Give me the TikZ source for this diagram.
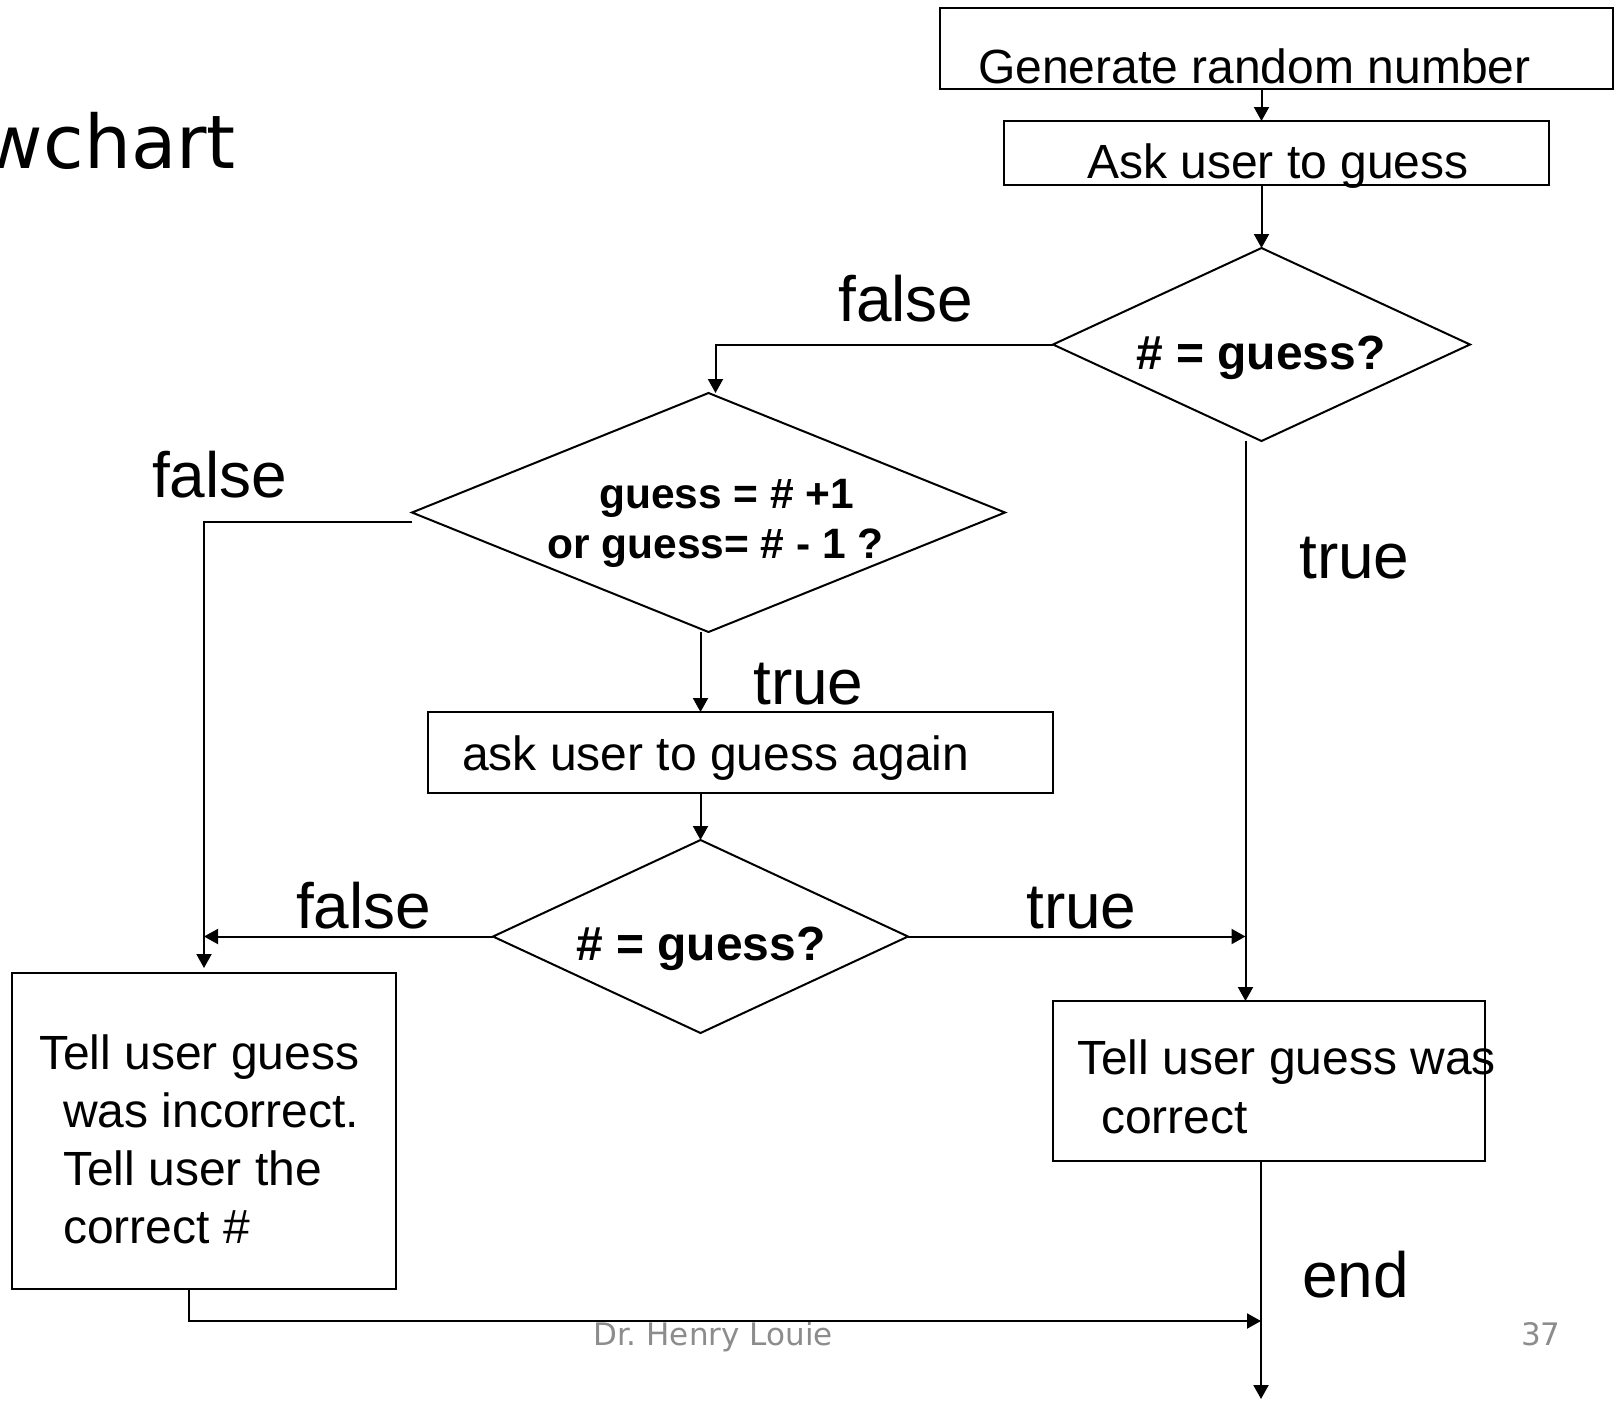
\documentclass[tikz,border=0pt]{standalone}
\usepackage{fontspec}
\setmainfont{Liberation Sans}
\newfontfamily\slidefont{DejaVu Sans}
\usetikzlibrary{shapes.geometric,arrows.meta}

\begin{document}
\begin{tikzpicture}[x=1pt,y=-1pt,
  box/.style={draw, line width=2pt, rectangle, inner sep=0pt, outer sep=0pt},
  decision/.style={draw, line width=2pt, diamond, inner sep=0pt, outer sep=0pt},
  boxtext/.style={inner sep=0pt, anchor=base west, font=\fontsize{48}{58}\selectfont},
  condtext/.style={inner sep=0pt, anchor=base west, font=\fontsize{48}{58}\selectfont\bfseries},
  branch/.style={inner sep=0pt, anchor=base west, font=\fontsize{64}{72}\selectfont},
  footer/.style={inner sep=0pt, anchor=base west, text=black!45, font=\slidefont\fontsize{31}{36}\selectfont},
  flow/.style={line width=2pt},
  arr/.style={flow, -{Triangle[length=14pt,width=15pt]}}]
\useasboundingbox (0,0) rectangle (1623,1401);

% slide title (partly off the page)
\node[inner sep=0pt, anchor=base east, font=\slidefont\fontsize{74}{80}\selectfont] (title) at (236,168) {wchart};

% process boxes
\node[box, minimum width=673pt, minimum height=81pt] (gen) at (1276.5,48.5) {};
\node[box, minimum width=545pt, minimum height=64pt] (ask) at (1276.5,153) {};
\node[box, minimum width=625pt, minimum height=81pt] (again) at (740.5,752.5) {};
\node[box, minimum width=384pt, minimum height=316pt] (wrong) at (204,1131) {};
\node[box, minimum width=432pt, minimum height=160pt] (right) at (1269,1081) {};

% decisions
\node[decision, minimum width=417pt, minimum height=193pt] (d1) at (1261.5,344.5) {};
\node[decision, minimum width=593pt, minimum height=239pt] (d2) at (708.5,512.5) {};
\node[decision, minimum width=415pt, minimum height=193pt] (d3) at (700.5,936.5) {};

% texts in the boxes
\node[boxtext] (gent) at (978,83) {Generate random number};
\node[boxtext] (askt) at (1087,178) {Ask user to guess};
\node[boxtext] (againt) at (462,770) {ask user to guess again};
\node[boxtext] (wrong1) at (39,1069) {Tell user guess};
\node[boxtext] (wrong2) at (63,1127) {was incorrect.};
\node[boxtext] (wrong3) at (63,1185) {Tell user the};
\node[boxtext] (wrong4) at (63,1243) {correct \#};
\node[boxtext] (right1) at (1077,1074) {Tell user guess was};
\node[boxtext] (right2) at (1101,1133) {correct};

% texts in the decisions
\node[condtext] (d1t) at (1136,369) {\# = guess?};
\node[condtext, font=\fontsize{42.5}{50}\selectfont\bfseries] (d2t1) at (599,508) {guess = \# +1};
\node[condtext, font=\fontsize{42.5}{50}\selectfont\bfseries] (d2t2) at (547,558) {or guess= \# - 1 ?};
\node[condtext] (d3t) at (576,960) {\# = guess?};

% branch labels
\node[branch] (f1) at (838,321) {false};
\node[branch] (f2) at (152,497) {false};
\node[branch] (t1) at (1299,578) {true};
\node[branch] (t2) at (753,704) {true};
\node[branch] (f3) at (296,928) {false};
\node[branch] (t3) at (1026,928) {true};
\node[branch] (endt) at (1302,1297) {end};

% footer
\node[footer] (author) at (593,1345) {Dr.\ Henry Louie};
\node[footer] (page) at (1521,1345) {37};

% loose ends of the flow
\coordinate (exit) at (1261,1399);
\coordinate (join) at (1261,1321);
\coordinate (trueline) at ([xshift=-16pt]d1.south);

% connectors
\draw[arr] (gen.south -| d1.north) -- (ask.north -| d1.north);
\draw[arr] (ask.south -| d1.north) -- (d1.north);
\draw[arr] (d1.west) -| ([xshift=7pt]d2.north);
\draw[arr] ([yshift=-9pt]d2.west) -| ([yshift=5pt]wrong.north);
\draw[arr] (trueline) -- (trueline |- right.north);
\draw[arr] (d2.south -| d3.north) -- (again.north -| d3.north);
\draw[arr] (again.south -| d3.north) -- (d3.north);
\draw[arr] (d3.west) -- (d3.west -| wrong.north);
\draw[arr] (d3.east) -- (d3.east -| trueline);
\draw[arr] (right.south -| exit) -- (exit);
\draw[arr] ([xshift=-15pt]wrong.south) |- (join);
\end{tikzpicture}
\end{document}
